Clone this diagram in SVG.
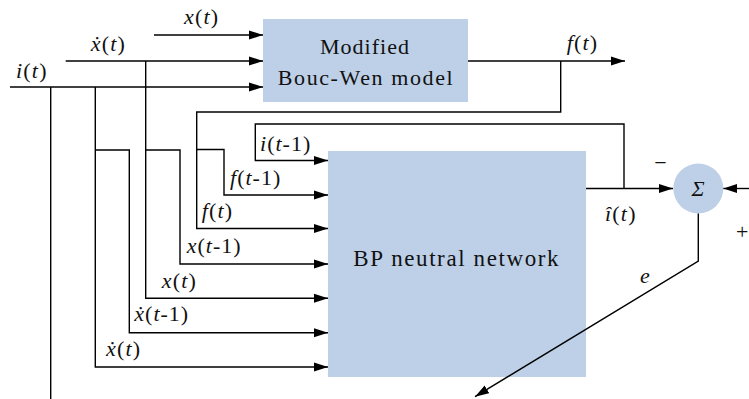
<svg xmlns="http://www.w3.org/2000/svg" width="749" height="399" viewBox="0 0 749 399">
  <defs>
    <marker id="ah" markerUnits="userSpaceOnUse" markerWidth="15" markerHeight="10" refX="14" refY="5" orient="auto">
      <path d="M0,0.5 L14,5 L0,9.5 Z" fill="#000"/>
    </marker>
  </defs>
  <rect width="749" height="399" fill="#fff"/>

  <g id="bouc-wen">
    <rect x="263" y="19" width="205" height="83" fill="#BDD0E7"/>
    <text style="font-family:'Liberation Serif',serif !important;font-size:22px !important;fill:#111;letter-spacing:1px" text-anchor="middle" x="365" y="54">Modified</text>
    <text style="font-family:'Liberation Serif',serif !important;font-size:22px !important;fill:#111;letter-spacing:1.6px" text-anchor="middle" x="366" y="85">Bouc-Wen model</text>
  </g>

  <g id="bp-network">
    <rect x="328" y="151" width="258" height="226" fill="#BDD0E7"/>
    <text style="font-family:'Liberation Serif',serif !important;font-size:23px !important;fill:#111;letter-spacing:1.6px" x="353.3" y="266">BP neutral network</text>
  </g>

  <g id="sum">
    <circle cx="698.3" cy="188.5" r="25" fill="#BDD0E7"/>
    <text style="font-family:'Liberation Serif',serif !important;font-size:22px !important;fill:#111;font-style:italic" text-anchor="middle" x="698" y="196">Σ</text>
  </g>

  <g id="connectors" fill="none" stroke="#000" stroke-width="1.4">
    <path marker-end="url(#ah)" d="M154,35 H263"/>
    <path marker-end="url(#ah)" d="M65.7,61 H263"/>
    <path marker-end="url(#ah)" d="M10,87 H263"/>
    <path marker-end="url(#ah)" d="M468,61 H625"/>
    <path marker-end="url(#ah)" d="M560.7,61 V112 H196.7 V228.5 H328"/>
    <path marker-end="url(#ah)" d="M196.7,149.5 H224 V195 H328"/>
    <path marker-end="url(#ah)" d="M586,188.5 H673"/>
    <path marker-end="url(#ah)" d="M624,188.5 V124 H255.3 V160.5 H328"/>
    <path d="M50.7,87 V399"/>
    <path marker-end="url(#ah)" d="M95.3,87 V367 H328"/>
    <path marker-end="url(#ah)" d="M95.3,150 H129.3 V332.7 H328"/>
    <path marker-end="url(#ah)" d="M145.7,61 V298.3 H328"/>
    <path marker-end="url(#ah)" d="M145.7,150 H180 V264 H328"/>
    <path marker-end="url(#ah)" d="M749,188.5 H723.3"/>
    <path marker-end="url(#ah)" d="M698.3,213.5 V261 L475,396.7"/>
  </g>

  <g id="labels">
    <text style="font-family:'Liberation Serif',serif !important;font-size:22px !important;fill:#111;letter-spacing:1.2px" x="184" y="24"><tspan style="font-style:italic">x</tspan>(<tspan style="font-style:italic">t</tspan>)</text>
    <text style="font-family:'Liberation Serif',serif !important;font-size:22px !important;fill:#111;letter-spacing:1.2px" x="90.7" y="51"><tspan style="font-style:italic">ẋ</tspan>(<tspan style="font-style:italic">t</tspan>)</text>
    <text style="font-family:'Liberation Serif',serif !important;font-size:22px !important;fill:#111;letter-spacing:1.2px" x="16" y="78"><tspan style="font-style:italic">i</tspan>(<tspan style="font-style:italic">t</tspan>)</text>
    <text style="font-family:'Liberation Serif',serif !important;font-size:22px !important;fill:#111;letter-spacing:1.2px" x="566.7" y="50"><tspan style="font-style:italic">f</tspan>(<tspan style="font-style:italic">t</tspan>)</text>
    <text style="font-family:'Liberation Serif',serif !important;font-size:22px !important;fill:#111;letter-spacing:1px" x="260" y="151"><tspan style="font-style:italic">i</tspan>(<tspan style="font-style:italic">t</tspan>-1)</text>
    <text style="font-family:'Liberation Serif',serif !important;font-size:22px !important;fill:#111;letter-spacing:1px" x="230" y="185"><tspan style="font-style:italic">f</tspan>(<tspan style="font-style:italic">t</tspan>-1)</text>
    <text style="font-family:'Liberation Serif',serif !important;font-size:22px !important;fill:#111;letter-spacing:1.2px" x="201.7" y="218"><tspan style="font-style:italic">f</tspan>(<tspan style="font-style:italic">t</tspan>)</text>
    <text style="font-family:'Liberation Serif',serif !important;font-size:22px !important;fill:#111;letter-spacing:1px" x="186.7" y="253"><tspan style="font-style:italic">x</tspan>(<tspan style="font-style:italic">t</tspan>-1)</text>
    <text style="font-family:'Liberation Serif',serif !important;font-size:22px !important;fill:#111;letter-spacing:1.2px" x="161.7" y="288"><tspan style="font-style:italic">x</tspan>(<tspan style="font-style:italic">t</tspan>)</text>
    <text style="font-family:'Liberation Serif',serif !important;font-size:22px !important;fill:#111;letter-spacing:1px" x="134.3" y="321"><tspan style="font-style:italic">ẋ</tspan>(<tspan style="font-style:italic">t</tspan>-1)</text>
    <text style="font-family:'Liberation Serif',serif !important;font-size:22px !important;fill:#111;letter-spacing:1.2px" x="106" y="356"><tspan style="font-style:italic">ẋ</tspan>(<tspan style="font-style:italic">t</tspan>)</text>
    <text style="font-family:'Liberation Serif',serif !important;font-size:22px !important;fill:#111;letter-spacing:1.2px" x="605" y="221"><tspan style="font-style:italic">î</tspan>(<tspan style="font-style:italic">t</tspan>)</text>
    <text style="font-family:'Liberation Serif',serif !important;font-size:22px !important;fill:#111" text-anchor="middle" x="660.5" y="170">−</text>
    <text style="font-family:'Liberation Serif',serif !important;font-size:22px !important;fill:#111" x="736" y="239">+</text>
    <text style="font-family:'Liberation Serif',serif !important;font-size:22px !important;fill:#111;font-style:italic" x="640" y="283">e</text>
  </g>
</svg>
